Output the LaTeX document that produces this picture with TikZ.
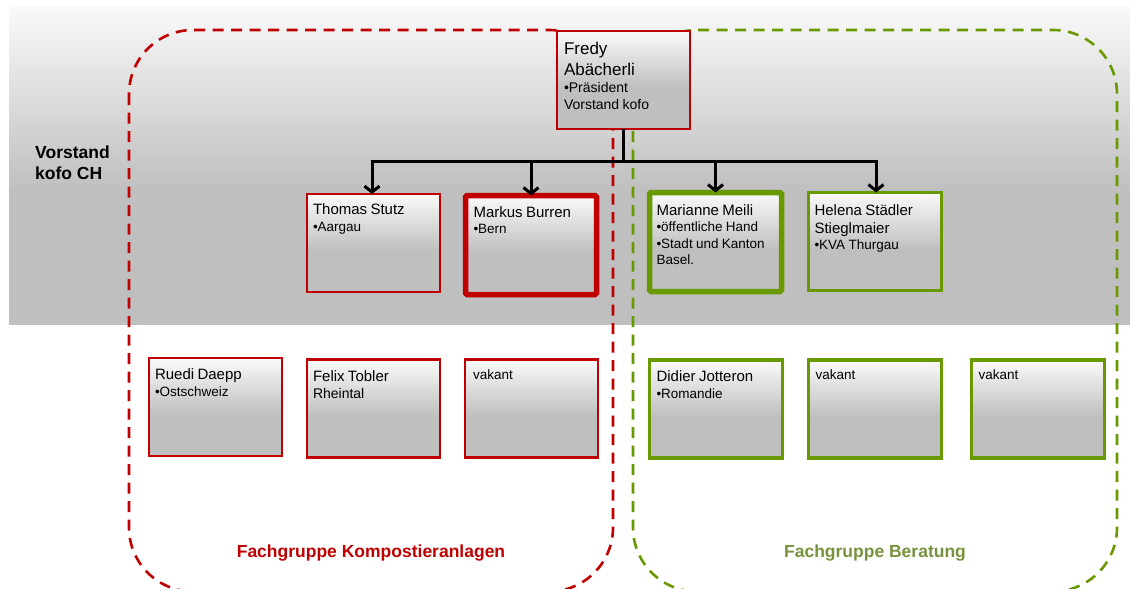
\documentclass[tikz,border=0pt]{standalone}
\usepackage{fontspec}
\setmainfont{Liberation Sans}
\usetikzlibrary{arrows.meta}
\definecolor{kred}{HTML}{C00000}
\definecolor{kgreen}{HTML}{689A00}
\definecolor{kgtext}{HTML}{77933C}
\definecolor{pgray}{HTML}{BFBFBF}
\definecolor{pwhite}{HTML}{FAFAFA}
\pgfdeclareverticalshading{panel}{100bp}{color(0bp)=(pgray); color(25bp)=(pgray); color(46bp)=(pgray); color(75bp)=(pwhite); color(100bp)=(pwhite)}
\newcommand\nmfont{\fontsize{15}{18}\selectfont}
\newcommand\sbfont{\fontsize{13.5}{16.5}\selectfont}
\newcommand\bgfont{\fontsize{17}{21}\selectfont}
\newcommand\bgsub{\fontsize{14}{17}\selectfont}
\tikzset{
  pbox/.style={shading=panel, inner sep=0pt, outer sep=0pt, minimum width=133pt, minimum height=98pt},
  redthin/.style={pbox, draw=kred, line width=2.5pt},
  redthick/.style={pbox, draw=kred, line width=5.5pt, minimum width=131pt, minimum height=99pt, rounded corners=1.5pt},
  greenthin/.style={pbox, draw=kgreen, line width=3.2pt},
  greenthick/.style={pbox, draw=kgreen, line width=5.5pt, minimum width=132pt, minimum height=99pt, rounded corners=1.5pt},
  txt/.style={anchor=north west, inner sep=0pt, outer sep=0pt, text width=128pt, align=left},
  conn/.style={line width=3pt, black},
  arr/.style={conn, -{Straight Barb[length=6pt,width=15pt,line width=3pt]}},
  grp/.style={line width=2.6pt, dash pattern=on 11pt off 7.5pt, rounded corners=64pt},
  grplabel/.style={font=\fontsize{17.5}{20}\selectfont\bfseries, inner sep=0pt}
}
\begin{document}
\begin{tikzpicture}[x=1pt,y=-1pt]
\useasboundingbox (0,0) rectangle (1130,589);
\clip (0,0) rectangle (1130,589);
\fill[white] (0,0) rectangle (1130,589);
% background band
\shade[shading=panel] (9,5) rectangle (1130,324);
% groups
\draw[grp, kred] (129,30) rectangle (613,591.5);
\draw[grp, kgreen] (633,30) rectangle (1117,591.5);
% side label
\node[anchor=north west, inner sep=0pt, align=left, font=\fontsize{17.5}{21}\selectfont\bfseries] (vorstand) at (35,146) {Vorstand\\kofo CH};
% boxes
\node[redthin] (fredy) at (623.5,80) {};
\node[redthin] (thomas) at (373.5,243) {};
\node[redthick] (markus) at (531,245) {};
\node[greenthick] (marianne) at (715.5,242) {};
\node[greenthin] (helena) at (875,241.5) {};
\node[redthin] (ruedi) at (215.5,407) {};
\node[redthin] (felix) at (373.5,408.5) {};
\node[redthin] (vakA) at (531.5,408.5) {};
\node[greenthin] (didier) at (716,409) {};
\node[greenthin] (vakB) at (875,409) {};
\node[greenthin] (vakC) at (1038,409) {};
% texts
\node[txt] (fredyT) at ([shift={(7,11)}]fredy.north west) {{\bgfont Fredy\par Abächerli\par}{\bgsub •Präsident\par Vorstand kofo\par}};
\node[txt] (thomasT) at ([shift={(6,10)}]thomas.north west) {{\nmfont Thomas Stutz\par}{\sbfont •Aargau\par}};
\node[txt] (markusT) at ([shift={(8,11)}]markus.north west) {{\nmfont Markus Burren\par}{\sbfont •Bern\par}};
\node[txt] (marianneT) at ([shift={(7,12)}]marianne.north west) {{\nmfont Marianne Meili\par}{\sbfont •öffentliche Hand\par •Stadt und Kanton Basel.\par}};
\node[txt] (helenaT) at ([shift={(6,12)}]helena.north west) {{\nmfont Helena Städler Stieglmaier\par}{\sbfont •KVA Thurgau\par}};
\node[txt] (ruediT) at ([shift={(6,11)}]ruedi.north west) {{\nmfont Ruedi Daepp\par}{\sbfont •Ostschweiz\par}};
\node[txt] (felixT) at ([shift={(6,11)}]felix.north west) {{\nmfont Felix Tobler\par}{\fontsize{14}{17}\selectfont Rheintal\par}};
\node[txt] (vakAT) at ([shift={(8,10)}]vakA.north west) {\sbfont vakant};
\node[txt] (didierT) at ([shift={(7,11)}]didier.north west) {{\nmfont Didier Jotteron\par}{\sbfont •Romandie\par}};
\node[txt] (vakBT) at ([shift={(7,10)}]vakB.north west) {\sbfont vakant};
\node[txt] (vakCT) at ([shift={(7,10)}]vakC.north west) {\sbfont vakant};
% connectors
\coordinate (barL) at (372,161);
\coordinate (barR) at (876,161);
\draw[conn] (fredy.south) -- (fredy.south |- barL);
\draw[conn, line cap=butt] ([xshift=-1.5pt]barL) -- ([xshift=1.5pt]barR);
\draw[arr] (barL) -- (barL |- thomas.north);
\draw[arr] (markus.north |- barL) -- (markus.north);
\draw[arr] (marianne.north |- barL) -- (marianne.north);
\draw[arr] (barR) -- (barR |- helena.north);
% group labels
\node[grplabel, text=kred] (kompost) at (371,553) {Fachgruppe Kompostieranlagen};
\node[grplabel, text=kgtext] (beratung) at (875,553) {Fachgruppe Beratung};
\end{tikzpicture}
\end{document}
